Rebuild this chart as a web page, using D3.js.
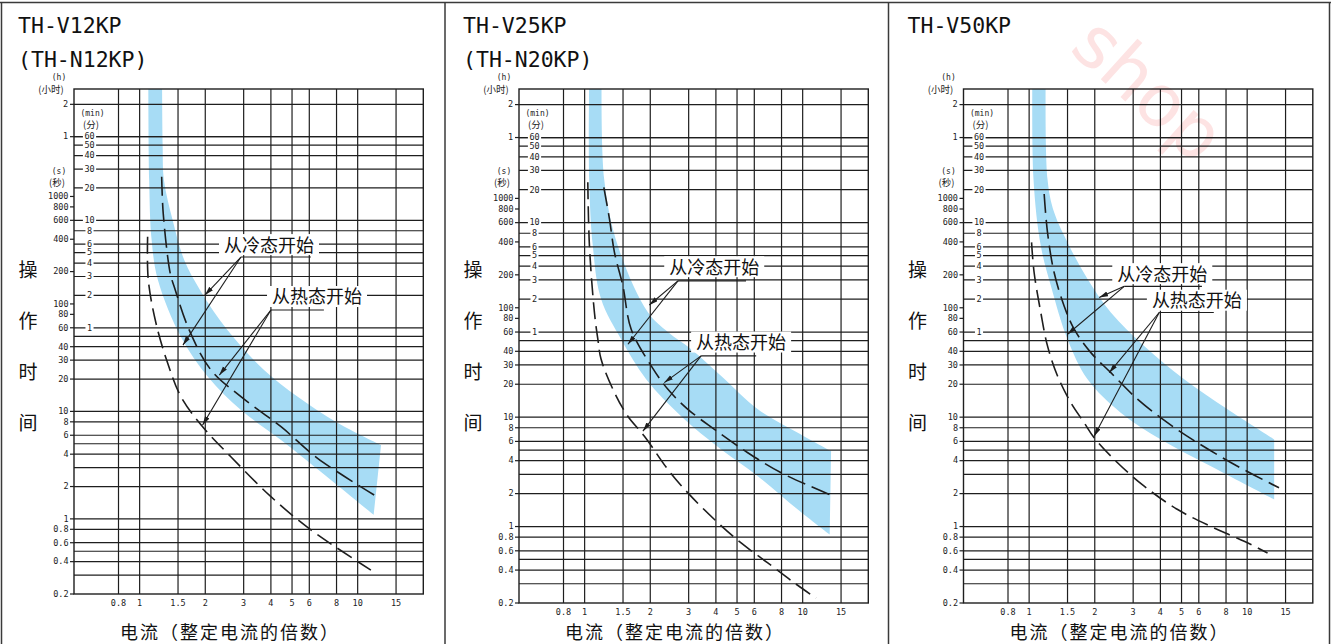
<!DOCTYPE html>
<html>
<head>
<meta charset="utf-8">
<title>TH-V 动作特性曲线</title>
<script src="https://d3js.org/d3.v7.min.js"></script>
<style>
body{margin:0;background:#fff;}
svg{display:block;}
.num{font-family:"DejaVu Sans Mono",monospace;font-size:8.5px;fill:#222;}
.cjk{font-family:"Noto Sans CJK SC",sans-serif;fill:#111;}
</style>
</head>
<body>
<svg width="1331" height="644"></svg>
<script>
// ---- 数据 ----
var titles = [["TH-V12KP","(TH-N12KP)"],["TH-V25KP","(TH-N20KP)"],["TH-V50KP"]];
var xTicks = [0.8,1,1.5,2,3,4,5,6,8,10,15];
var xTickLabels = ["0.8","1","1.5","2","3","4","5","6","8","10","15"];
var secTicks = [1000,800,600,400,200,100,80,60,40,30,20,10,8,6,4,2,1,0.8,0.6,0.4,0.2];
var secGrid = [50,40,30,20,10,8,6,5,4,3,2,1,0.8,0.6,0.5,0.4,0.3];
var minTicks = [60,50,40,30,20,10,8,6,5,4,3,2,1];
var hourTicks = [2,1];
var yTitle = ["操","作","时","间"];
var xTitle = "电流（整定电流的倍数）";
var coldText = "从冷态开始", hotText = "从热态开始";

// [电流倍数, 秒]
var band12Upper = [[1.266,20000],[1.275,3000],[1.293,1419],[1.417,603],[1.602,256],[1.9,133],[2.533,57],[3.72,24.3],[5.31,13.7],[8.1,7.8],[12.8,4.86]];
var band12Lower = [[1.095,20000],[1.106,1419],[1.135,393],[1.213,167],[1.547,49.2],[2.06,20.9],[2.915,10.3],[4.45,5.42],[7.54,2.3],[11.84,1.09]];
var cold12 = [[1.262,1524],[1.283,695],[1.382,192],[1.441,144.5],[1.689,57],[2.124,24.3],[2.915,13.7],[4.45,7.2],[6.55,3.66],[11.9,1.67]];
var hot12 = [[1.088,422],[1.095,170],[1.188,66.4],[1.344,28.2],[1.547,13.7],[1.945,7.2],[2.62,3.79],[4.0,1.61],[6.1,0.79],[11.5,0.334]];

var band25Upper = [[1.199,20000],[1.229,1504],[1.42,369],[1.95,91],[2.41,60],[3.08,41.8],[4.23,23.8],[6.23,11.8],[9.5,7.2],[13.5,4.89]];
var band25Lower = [[1.052,20000],[1.049,1504],[1.09,369],[1.19,120],[1.47,51.5],[1.915,22.2],[2.77,10.2],[4.23,5.07],[6.23,2.89],[9.5,1.43],[13.3,0.844]];
var cold25 = [[1.225,1262],[1.3,647],[1.37,321],[1.497,159],[1.635,63.7],[2.02,29.4],[2.41,17.96],[2.975,11.8],[3.94,7.73],[5.6,4.73],[7.97,3.1],[13.3,1.96]];
var hot25 = [[1.034,1403],[1.052,369],[1.109,90.5],[1.15,51.5],[1.19,33.8],[1.37,16.8],[1.578,10.2],[1.88,6.7],[2.41,3.32],[2.975,2.03],[3.94,1.16],[5.22,0.708],[6.92,0.465],[9.17,0.305],[11.5,0.222]];

var band50Upper = [[1.193,20000],[1.214,1504],[1.302,745],[1.526,369],[1.853,183],[2.37,90.7],[3.37,44.8],[5.14,22.2],[8.13,11.8],[13.3,6.26]];
var band50Lower = [[1.036,20000],[1.047,1504],[1.131,369],[1.258,159],[1.5,51.5],[1.853,22.2],[2.63,11.0],[4.02,6.26],[6.82,3.56],[13.3,1.77]];
var cold50 = [[1.172,1097],[1.214,489],[1.302,210],[1.447,104],[1.609,63.7],[1.919,38.9],[2.37,25.5],[3.14,14.6],[4.31,8.9],[5.92,5.84],[9.03,3.56],[14.0,2.26]];
var hot50 = [[1.026,396],[1.054,210],[1.131,90.5],[1.214,44.8],[1.35,23.8],[1.553,13.6],[1.788,8.9],[1.987,6.49],[2.544,3.83],[3.37,2.34],[4.8,1.43],[6.82,1.0],[9.69,0.733],[12.4,0.574]];

// 注释: 文字中心, 引线起点, 下划线终点, 箭头1, 箭头2
var coldNote12 = [[3.92,353],[2.915,273],[6.1,273],[1.993,121],[1.58,41.4]];
var hotNote12 = [[6.51,116],[4.0,87.7],[7.0,87.7],[2.32,21.8],[1.945,7.47]];
var coldNote25 = [[3.93,235],[2.68,176],[5.5,176],[1.98,106],[1.58,46.4]];
var hotNote25 = [[5.22,48.1],[3.42,36.3],[6.12,36.3],[2.32,20.7],[1.85,7.45]];
var coldNote50 = [[4.08,203],[2.73,157],[6.2,157],[2.095,124],[1.5,57.3]];
var hotNote50 = [[5.88,116],[3.95,90.5],[7.03,90.5],[2.33,25.5],[1.987,6.7]];

var svg = d3.select("svg");
var W = 1331, H = 644, TOP = 89, PW = 349.3;
var ink = "#1e1e1e";

svg.append("rect").attr("width",W).attr("height",H).attr("fill","#fff");

var defs = svg.append("defs");
defs.append("marker").attr("id","arrow")
    .attr("markerUnits","userSpaceOnUse")
    .attr("markerWidth",10).attr("markerHeight",6)
    .attr("refX",9).attr("refY",2.5).attr("orient","auto")
  .append("path").attr("d","M0,0 L9,2.5 L0,5 Z").attr("fill",ink);

var panels = [
  {left:74, bottom:594, t:titles[0], up:band12Upper, lo:band12Lower, cold:cold12, hot:hot12, cn:coldNote12, hn:hotNote12},
  {left:519, bottom:603, t:titles[1], up:band25Upper, lo:band25Lower, cold:cold25, hot:hot25, cn:coldNote25, hn:hotNote25},
  {left:963.5, bottom:603, t:titles[2], up:band50Upper, lo:band50Lower, cold:cold50, hot:hot50, cn:coldNote50, hn:hotNote50}
];

// 水印
svg.append("text").text("shop")
    .attr("transform","translate(1068,50) rotate(42)")
    .attr("font-family","DejaVu Sans").attr("font-size",72)
    .attr("fill","#fde3e3");

panels.forEach(function(p,i){
  var right = p.left + PW;
  var x = d3.scaleLog().domain([0.5,20]).range([p.left,right]);
  var y = d3.scaleLog().domain([0.2,10000]).range([p.bottom,TOP]);
  var g = svg.append("g");

  defs.append("clipPath").attr("id","clip"+i)
    .append("rect").attr("x",p.left).attr("y",TOP).attr("width",PW).attr("height",p.bottom-TOP);

  var line = d3.line().x(d=>x(d[0])).y(d=>y(d[1])).curve(d3.curveCatmullRom.alpha(0.5));

  // 带
  var band = line(p.up) + line(p.lo.slice().reverse()).replace(/^M/,"L") + "Z";
  g.append("path").attr("d",band).attr("fill","#a7dcf5").attr("clip-path","url(#clip"+i+")");

  // 网格
  var hLines = secGrid.concat(minTicks.map(m=>m*60), hourTicks.map(h=>h*3600));
  g.append("g").selectAll("line").data(hLines).enter().append("line")
    .attr("x1",p.left).attr("x2",right)
    .attr("y1",d=>y(d)).attr("y2",d=>y(d))
    .attr("stroke",ink).attr("stroke-width",1.2);
  g.append("g").selectAll("line").data(xTicks).enter().append("line")
    .attr("x1",d=>x(d)).attr("x2",d=>x(d))
    .attr("y1",TOP).attr("y2",p.bottom)
    .attr("stroke",ink).attr("stroke-width",1.2);
  g.append("rect").attr("x",p.left).attr("y",TOP).attr("width",PW).attr("height",p.bottom-TOP)
    .attr("fill","none").attr("stroke",ink).attr("stroke-width",1.4);

  // 秒刻度
  var sec = g.append("g").selectAll("g").data(secTicks).enter().append("g")
    .attr("transform",d=>"translate(0,"+y(d)+")");
  sec.append("line").attr("x1",p.left-4).attr("x2",p.left).attr("stroke",ink).attr("stroke-width",1.2);
  sec.append("text").attr("class","num").attr("x",p.left-5.5).attr("dy","0.33em")
    .attr("text-anchor","end").text(d=>String(d));

  // 小时刻度
  var hr = g.append("g").selectAll("g").data(hourTicks).enter().append("g")
    .attr("transform",d=>"translate(0,"+y(d*3600)+")");
  hr.append("line").attr("x1",p.left-4).attr("x2",p.left).attr("stroke",ink).attr("stroke-width",1.2);
  hr.append("text").attr("class","num").attr("x",p.left-6).attr("dy","0.33em")
    .attr("text-anchor","end").text(d=>String(d));

  // 分刻度 (图内)
  var mn = g.append("g").selectAll("g").data(minTicks).enter().append("g")
    .attr("transform",d=>"translate("+(p.left+15.5)+","+y(d*60)+")");
  mn.append("rect").attr("x",d=>-(String(d).length*5.1+3)/2).attr("y",-4.5)
    .attr("width",d=>String(d).length*5.1+3).attr("height",9).attr("fill","#fff");
  mn.append("text").attr("class","num").attr("dy","0.33em").attr("text-anchor","middle").text(d=>String(d));

  // 单位
  var units = [["(h)",-15,77],["(小时)",-23,90],["(min)",18.5,113],["(分)",17,125],["(s)",-15,171],["(秒)",-17,183]];
  g.selectAll(".unit").data(units).enter().append("text")
    .attr("x",d=>p.left+d[1]).attr("y",d=>d[2]).attr("dy","0.35em")
    .attr("text-anchor","middle")
    .attr("font-family",d=>/[a-z]/.test(d[0]) ? "DejaVu Sans Mono" : "Noto Sans CJK SC")
    .attr("font-size",d=>/[a-z]/.test(d[0]) ? 8 : 9.5)
    .attr("fill","#222").text(d=>d[0]);

  // x刻度
  g.append("g").selectAll("text").data(xTicks).enter().append("text")
    .attr("class","num").attr("x",d=>x(d)).attr("y",p.bottom+12)
    .attr("text-anchor","middle").text((d,k)=>xTickLabels[k]);

  // 标题
  p.t.forEach(function(s,k){
    g.append("text").attr("x",p.left-56).attr("y",33+k*34)
      .attr("font-family","DejaVu Sans Mono").attr("font-size",21.5).attr("fill","#111").text(s);
  });
  yTitle.forEach(function(c,k){
    g.append("text").attr("class","cjk").attr("x",p.left-46).attr("y",270+k*51)
      .attr("dy","0.35em").attr("text-anchor","middle").attr("font-size",19).text(c);
  });
  g.append("text").attr("class","cjk").attr("x",p.left+156).attr("y",638.5)
    .attr("text-anchor","middle").attr("font-size",18).attr("letter-spacing",2).text(xTitle);

  // 曲线
  g.append("path").attr("d",line(p.cold)).attr("fill","none").attr("stroke",ink)
    .attr("stroke-width",1.6).attr("stroke-dasharray","19,7");
  g.append("path").attr("d",line(p.hot)).attr("fill","none").attr("stroke",ink)
    .attr("stroke-width",1.6).attr("stroke-dasharray","17,7");

  // 注释
  [[p.cn,coldText],[p.hn,hotText]].forEach(function(n){
    var a = n[0];
    var cx = x(a[0][0]), cy = y(a[0][1]);
    g.append("rect").attr("x",cx-50).attr("y",cy-11).attr("width",100).attr("height",21).attr("fill","#fff");
    g.append("text").attr("class","cjk").attr("x",cx).attr("y",cy).attr("dy","0.36em")
      .attr("text-anchor","middle").attr("font-size",18).text(n[1]);
    g.append("line").attr("x1",x(a[1][0])).attr("y1",y(a[1][1])).attr("x2",x(a[2][0])).attr("y2",y(a[2][1]))
      .attr("stroke",ink).attr("stroke-width",1.1);
    [a[3],a[4]].forEach(function(tp){
      g.append("line").attr("x1",x(a[1][0])).attr("y1",y(a[1][1])).attr("x2",x(tp[0])).attr("y2",y(tp[1]))
        .attr("stroke",ink).attr("stroke-width",1.1).attr("marker-end","url(#arrow)");
    });
  });
});

// 边框
var frame = svg.append("g").attr("stroke","#3a3a3a").attr("stroke-width",1.5);
frame.append("line").attr("x1",0).attr("x2",W).attr("y1",2.5).attr("y2",2.5);
[1.5,445,888.5,1329.5].forEach(function(fx){
  frame.append("line").attr("x1",fx).attr("x2",fx).attr("y1",2).attr("y2",H);
});
</script>
</body>
</html>
